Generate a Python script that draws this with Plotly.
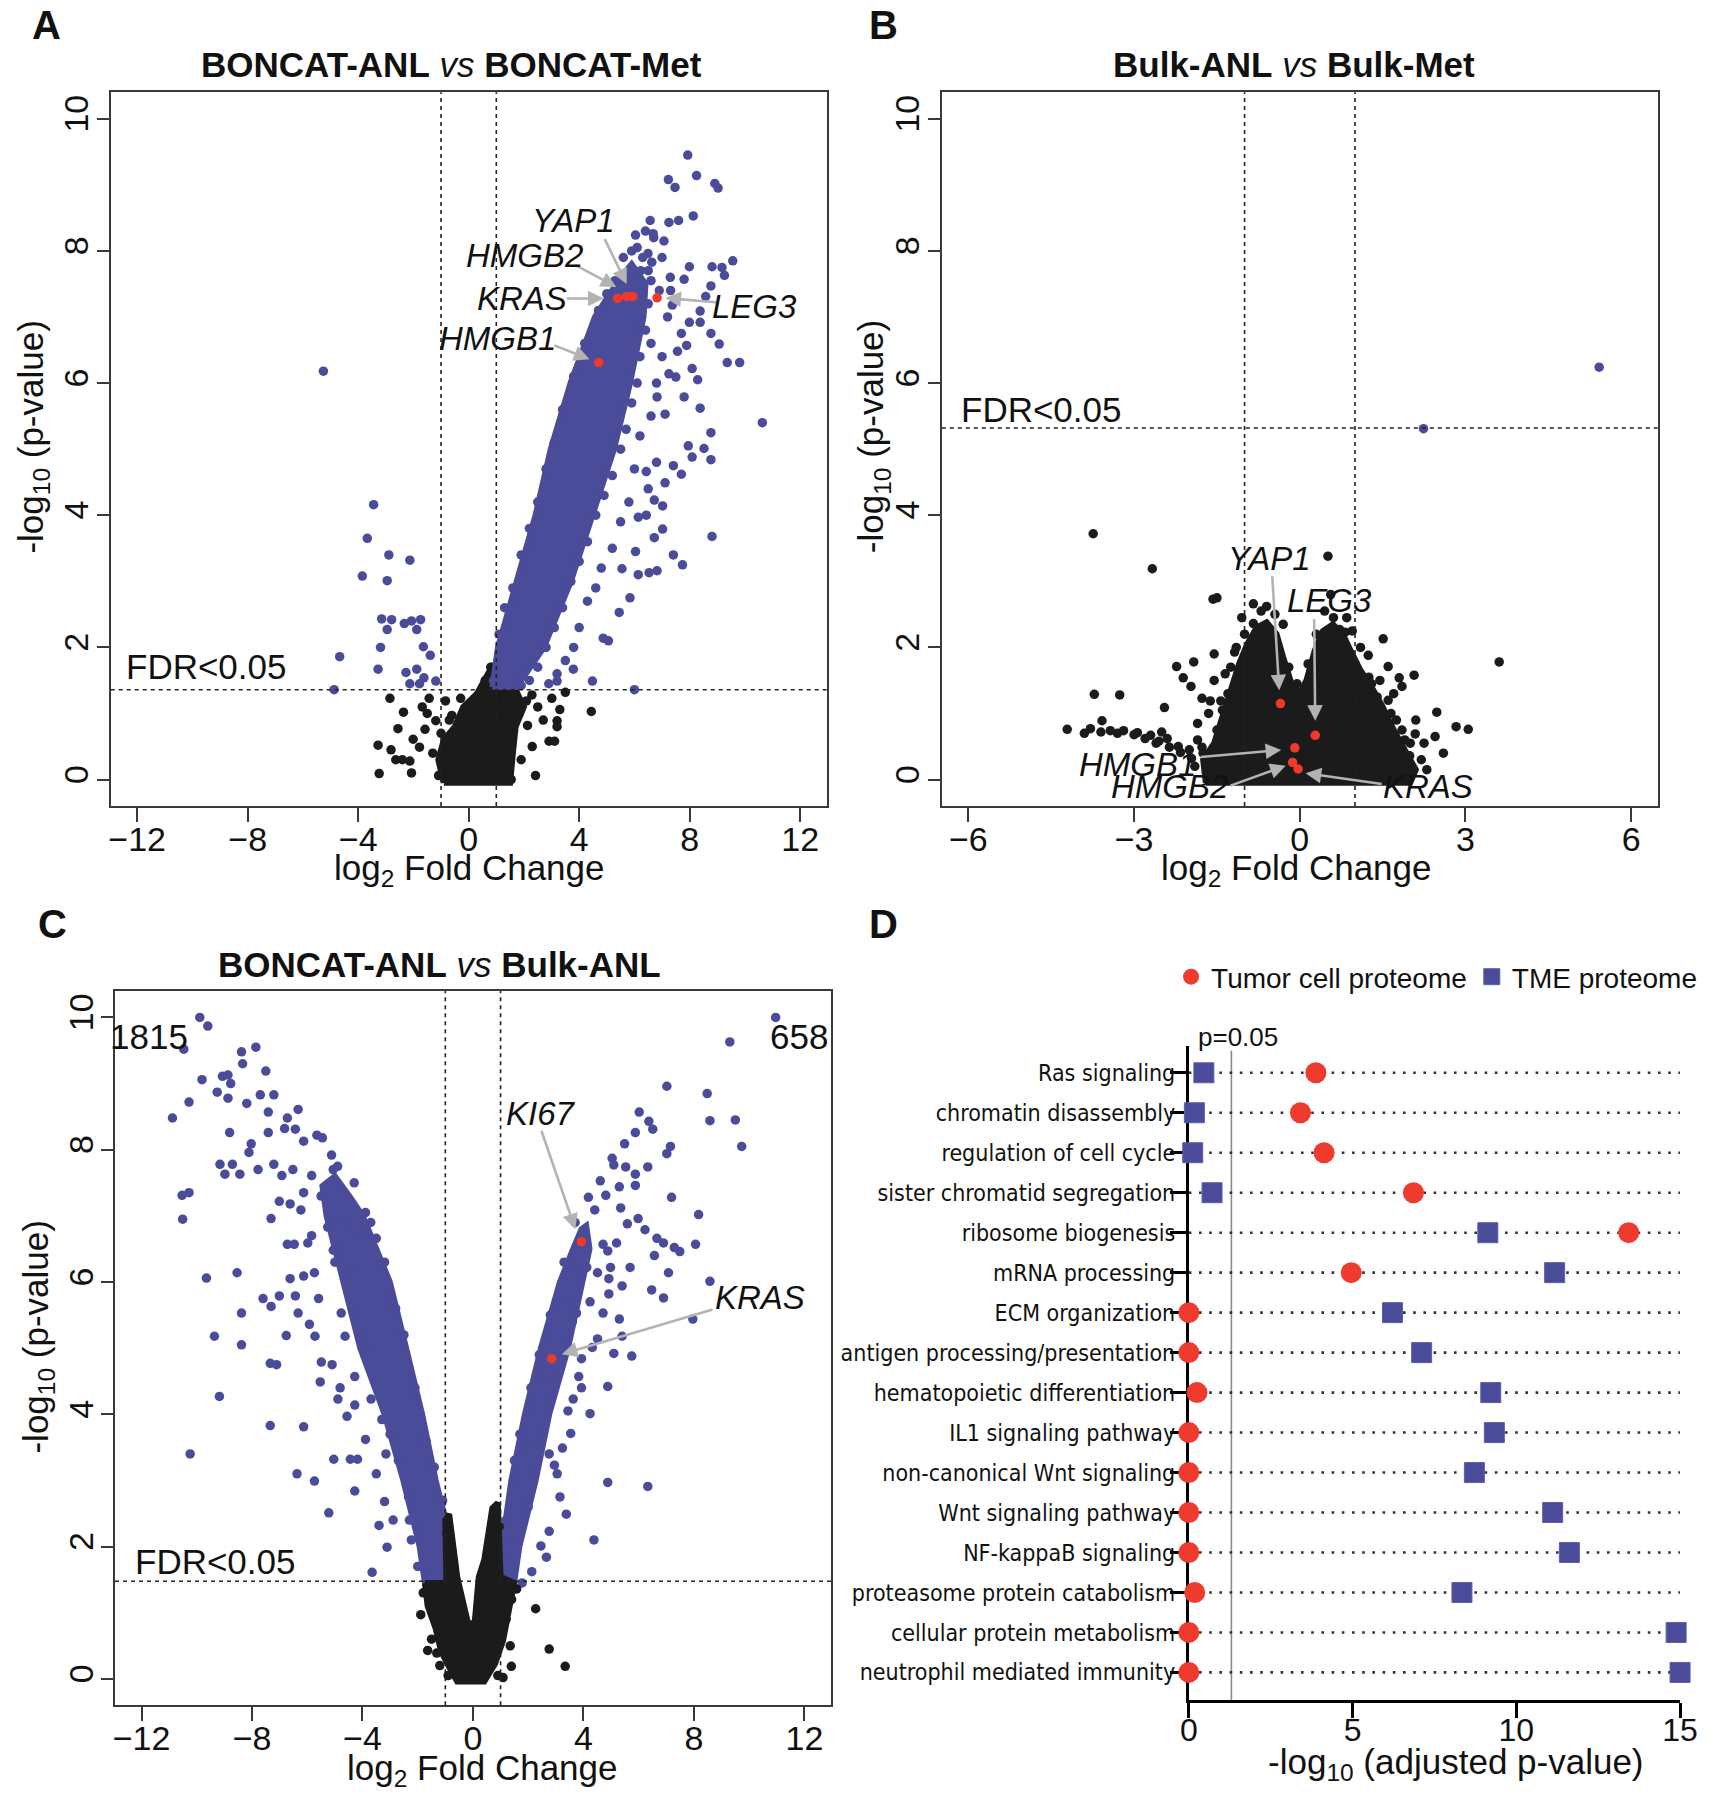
import plotly.graph_objects as go

W, H = 1721, 1800
BLUE = "#4a4c9a"
RED = "#f0392b"
BLACK = "#1b1b1b"
AXC = "#3a3a3a"
FONT = "Liberation Sans, Arial, sans-serif"
NARROW = "Liberation Sans Narrow, Arial Narrow, DejaVu Sans Condensed, sans-serif"

# ---------------- Panel A: BONCAT-ANL vs BONCAT-Met ----------------
A_sig_core = [(0.86, 1.40), (1.06, 2.0), (1.74, 3.0), (2.42, 4.0), (2.97, 5.0), (3.69, 6.0), (4.57, 7.0),
              (5.06, 7.3), (5.5, 7.6), (5.9, 7.8), (6.4, 7.5), (6.33, 7.0), (5.84, 6.0), (5.26, 5.0),
              (4.48, 4.0), (3.7, 3.0), (2.72, 2.0), (1.74, 1.40)]
A_ns_core = [(-0.9, -0.05), (-1.1, 0.3), (-0.9, 0.6), (-0.5, 0.8), (-0.2, 1.1), (0.3, 1.3), (0.7, 1.6),
             (0.9, 1.75), (1.0, 1.36), (1.7, 1.36), (2.0, 1.1), (1.7, 0.8), (1.6, 0.4), (1.5, -0.05)]
A_sig = [(7.93, 9.45), (8.25, 9.14), (7.23, 9.08), (7.47, 8.96), (8.91, 9.02), (9.03, 8.95), (8.13, 8.53),
         (7.6, 8.46), (6.57, 8.46), (7.25, 8.43), (6.68, 8.26), (6.04, 8.24), (7.07, 8.15), (6.49, 7.96),
         (7.99, 7.76), (8.81, 7.76), (9.56, 7.85), (9.17, 7.75), (9.26, 7.63), (8.77, 7.47), (7.8, 7.57),
         (7.31, 7.4), (7.37, 7.18), (6.63, 7.83), (6.23, 7.7), (8.38, 7.09), (8.58, 7.31), (8.38, 6.92),
         (7.99, 6.92), (7.7, 6.75), (7.89, 6.57), (7.56, 6.48), (8.77, 6.75), (9.07, 6.59), (9.36, 6.31),
         (9.81, 6.31), (10.63, 5.4), (8.38, 5.62), (8.77, 5.25), (7.95, 5.05), (8.52, 5.01), (8.09, 4.88),
         (8.77, 4.84), (7.41, 4.75), (7.7, 4.62), (7.11, 4.49), (8.81, 3.68), (7.41, 3.40), (7.74, 3.25),
         (6.82, 3.16), (6.53, 3.13), (7.02, 3.79), (6.72, 3.66), (6.14, 3.10), (5.45, 2.53), (5.06, 2.10),
         (4.87, 2.14), (4.48, 1.49), (6.0, 1.36), (3.79, 1.67), (3.2, 1.49), (6.04, 3.45), (5.84, 2.75),
         (5.55, 3.19), (6.43, 4.0), (6.72, 4.23), (6.14, 3.97), (7.02, 4.14), (6.43, 4.66), (7.11, 5.53),
         (6.82, 5.79), (7.25, 6.14), (7.8, 5.79), (8.29, 6.05), (8.09, 6.22), (7.5, 6.09),
         (0.9, 1.5), (1.1, 2.2), (1.3, 2.6), (1.6, 2.9), (1.9, 3.4), (2.2, 3.8), (2.5, 4.2), (2.8, 4.7),
         (3.1, 5.1), (3.4, 5.6), (3.8, 6.1), (4.2, 6.6), (4.7, 7.1), (5.0, 7.35), (5.3, 7.55), (5.6, 7.9),
         (5.9, 8.0), (6.1, 8.05), (6.3, 7.9), (6.5, 7.7), (6.6, 7.55), (6.5, 7.2), (6.4, 6.8), (6.2, 6.4),
         (6.1, 6.0), (5.9, 5.7), (5.7, 5.3), (5.5, 5.0), (5.2, 4.6), (4.9, 4.3), (4.6, 4.0), (4.3, 3.6),
         (4.0, 3.3), (3.7, 3.0), (3.4, 2.6), (3.1, 2.3), (2.8, 2.0), (2.5, 1.7), (2.2, 1.5), (1.9, 1.42),
         (5.5, 3.9), (5.2, 3.5), (4.8, 3.2), (4.6, 2.9), (4.3, 2.7), (4.0, 2.3), (3.8, 2.0), (3.5, 1.8),
         (3.2, 1.6), (2.9, 1.45), (6.2, 5.2), (6.6, 5.5), (6.8, 4.8), (6.5, 4.4), (6.0, 4.7), (5.8, 4.2),
         (7.0, 6.4), (6.8, 6.0), (6.6, 6.6), (7.2, 7.0), (6.9, 7.4), (7.3, 7.6), (7.0, 7.9), (6.7, 8.2),
         (6.4, 8.3),
         (-5.26, 6.18), (-3.44, 4.16), (-3.67, 3.65), (-3.85, 3.08), (-2.89, 3.40), (-2.95, 3.01),
         (-2.13, 3.32), (-3.15, 2.43), (-2.79, 2.42), (-2.95, 2.27), (-2.33, 2.36), (-2.07, 2.40),
         (-1.74, 2.42), (-1.88, 2.27), (-3.19, 2.0), (-1.64, 2.01), (-1.39, 1.88), (-4.67, 1.86),
         (-3.28, 1.67), (-2.27, 1.62), (-1.88, 1.67), (-1.62, 1.54), (-2.13, 1.45), (-1.19, 1.49),
         (-4.87, 1.36), (-1.78, 1.45)]
A_ns = [(-3.24, 0.09), (-3.28, 0.52), (-2.81, 0.45), (-2.64, 0.30), (-2.13, 0.28), (-2.36, 1.02),
        (-2.56, 0.77), (-2.85, 1.23), (-1.78, 0.49), (-2.01, 0.61), (-2.07, 0.10), (-1.58, 0.76),
        (-1.68, 1.10), (-1.19, 0.89), (-1.09, 0.06), (-1.43, 1.23), (-0.84, 1.19), (-0.61, 0.97),
        (-0.29, 1.23), (0.14, 0.97), (2.42, 0.06), (1.54, 0.0), (4.44, 1.03), (2.91, 0.58), (3.11, 0.58),
        (3.2, 0.89), (3.3, 1.06), (3.5, 1.32), (2.29, 1.28), (2.09, 1.19), (1.84, 1.02), (2.13, 0.82),
        (3.2, 0.80), (3.01, 1.23), (-0.6, 0.2), (-0.4, 0.5), (0.2, 0.9), (1.0, 1.2), (1.3, 0.9),
        (1.5, 0.5), (-0.3, 0.6), (2.3, 0.5), (2.5, 1.1), (-0.7, 0.9), (-1.0, 0.7), (-1.3, 0.4),
        (-1.5, 1.0), (-2.4, 0.3), (0.6, 1.5), (0.8, 1.7), (1.9, 0.3), (2.7, 0.9)]
A_genes = ["KRAS", "HMGB2", "YAP1", "LEG3", "HMGB1"]
A_gene_x = [5.39, 5.71, 5.94, 6.82, 4.71]
A_gene_y = [7.28, 7.31, 7.31, 7.29, 6.31]
A_label_x = [1.93, 2.03, 3.79, 10.34, 1.06]
A_label_y = [7.28, 7.93, 8.46, 7.16, 6.68]
A_tail_x = [3.5, 3.8, 4.9, 9.0, 3.05]
A_tail_y = [7.28, 7.8, 8.2, 7.22, 6.58]
A_head_x = [4.96, 5.41, 5.75, 7.05, 4.44]
A_head_y = [7.28, 7.44, 7.47, 7.29, 6.35]
A_fdr = 1.36

# ---------------- Panel B: Bulk-ANL vs Bulk-Met ----------------
B_ns_core = [(-1.7, -0.05), (-1.75, 0.3), (-1.55, 0.55), (-1.4, 0.95), (-1.25, 1.35), (-1.1, 1.75),
             (-0.95, 2.05), (-0.78, 2.3), (-0.6, 2.38), (-0.42, 2.2), (-0.3, 1.85), (-0.15, 1.45),
             (0.0, 1.3), (0.12, 1.5), (0.27, 1.95), (0.42, 2.25), (0.6, 2.35), (0.78, 2.2), (0.92, 1.95),
             (1.1, 1.65), (1.3, 1.4), (1.5, 1.1), (1.7, 0.75), (1.9, 0.45), (2.1, 0.15), (2.0, -0.05)]
B_sig = [(5.42, 6.24), (2.24, 5.31)]
B_ns = [(-3.74, 3.72), (-2.67, 3.19), (0.51, 3.38), (-1.57, 2.73), (-1.50, 2.75), (-0.84, 2.66),
        (-0.60, 2.62), (0.56, 2.80), (3.61, 1.78), (2.07, 1.58), (1.80, 1.54), (1.85, 1.41), (1.60, 1.71),
        (1.51, 2.13), (1.24, 1.88), (-2.23, 1.71), (-1.92, 1.78), (-1.55, 1.90), (-2.11, 1.54),
        (-1.97, 1.41), (-1.77, 1.23), (-1.62, 1.19), (-1.43, 1.19), (-2.45, 1.09), (-3.72, 1.29),
        (-3.26, 1.28), (-4.21, 0.76), (-3.79, 0.77), (-3.58, 0.89), (-3.43, 0.74), (-3.19, 0.74),
        (-2.94, 0.71), (-2.70, 0.67), (-2.55, 0.58), (-2.36, 0.49), (-2.16, 0.41), (-1.96, 0.32),
        (-1.77, 0.49), (-1.62, 0.23), (-1.43, 0.49), (-1.18, 1.41), (-1.18, 1.93), (-0.84, 2.36),
        (2.48, 1.02), (2.45, 0.65), (2.83, 0.80), (3.05, 0.76), (2.09, 0.69), (1.99, 0.36), (1.92, 0.15),
        (1.41, 0.41), (1.16, 0.15), (0.61, 2.45), (0.72, 2.27), (0.82, 2.23), (1.16, 1.23), (1.46, 0.93),
        (-3.3, 0.7), (-3.0, 0.68), (-2.8, 0.62), (-2.6, 0.55), (-2.4, 0.62), (-2.2, 0.5), (-2.0, 0.45),
        (-1.9, 0.2), (-1.85, 0.6), (-2.5, 0.72), (-3.6, 0.72), (-3.9, 0.7), (-1.3, 1.3), (-1.25, 1.7),
        (-1.0, 2.2), (1.3, 1.45), (1.6, 1.2), (1.75, 0.9), (2.0, 0.55), (2.2, 0.3), (2.1, 0.9),
        (1.1, 2.0), (0.95, 2.25), (-0.45, 2.5), (2.6, 0.4), (1.7, 1.3),
        (-1.05, 2.45), (-0.7, 2.55), (-0.3, 2.35), (0.3, 2.2), (0.45, 2.55), (0.85, 2.45), (1.0, 1.75),
        (1.25, 1.55), (1.4, 1.25), (-1.4, 1.05), (-1.5, 0.75), (-1.75, 0.4), (2.3, 0.15),
        (1.85, 0.75), (-0.2, 1.7), (0.15, 1.75), (-0.05, 1.45), (-1.55, 1.5), (-1.35, 1.6), (-1.15, 2.0),
        (1.45, 1.5), (1.65, 1.0), (1.9, 0.6), (2.25, 0.55), (-1.65, 1.0), (-1.85, 0.85)]
B_genes = ["YAP1", "LEG3", "HMGB1", "HMGB2", "KRAS"]
B_gene_x = [-0.35, 0.28, -0.09, -0.13, -0.03]
B_gene_y = [1.15, 0.67, 0.48, 0.26, 0.16]
B_label_x = [-0.55, 0.53, -2.94, -2.36, 2.32]
B_label_y = [3.34, 2.71, 0.23, -0.11, -0.11]
B_tail_x = [-0.50, 0.26, -1.82, -1.28, 1.51]
B_tail_y = [3.10, 2.45, 0.34, -0.10, -0.07]
B_head_x = [-0.37, 0.28, -0.30, -0.22, 0.07]
B_head_y = [1.32, 0.86, 0.45, 0.22, 0.10]
B_fdr = 5.32

# ---------------- Panel C: BONCAT-ANL vs Bulk-ANL ----------------
C_sig_core_left = [(-1.74, 1.45), (-1.93, 2.0), (-2.52, 3.0), (-3.2, 4.0), (-4.08, 5.0), (-4.67, 6.0),
                   (-5.3, 7.0), (-5.45, 7.45), (-5.0, 7.6), (-4.48, 7.3), (-3.99, 7.0), (-3.5, 6.5),
                   (-3.01, 6.0), (-2.42, 5.0), (-1.84, 4.0), (-1.35, 3.0), (-1.05, 2.5), (-1.0, 2.0),
                   (-1.0, 1.45)]
C_sig_core_right = [(1.49, 1.45), (1.68, 2.0), (2.27, 3.0), (2.76, 4.0), (3.44, 5.0), (3.93, 6.0),
                    (4.22, 6.5), (4.1, 6.85), (3.93, 6.8), (3.63, 6.5), (3.15, 6.0), (2.46, 5.0),
                    (1.88, 4.0), (1.39, 3.0), (1.05, 2.0), (1.0, 1.45)]
C_ns_core = [(-1.74, 1.45), (-1.64, 1.10), (-1.35, 0.76), (-1.15, 0.41), (-0.76, 0.10), (-0.57, -0.04),
             (0.41, -0.04), (0.8, 0.23), (1.09, 0.58), (1.29, 1.02), (1.49, 1.45), (1.0, 1.54),
             (0.9, 2.66), (0.7, 2.58), (0.41, 1.80), (0.21, 1.54), (0.06, 0.84), (-0.18, 0.84),
             (-0.57, 1.54), (-0.86, 2.49), (-1.0, 2.4), (-0.96, 1.45)]
C_sig = [(-9.89, 10.0), (-9.6, 9.87), (-10.47, 9.52), (-8.38, 9.48), (-7.86, 9.55), (-8.34, 9.3),
         (-7.5, 9.19), (-9.07, 9.11), (-8.87, 9.13), (-9.81, 9.06), (-8.77, 9.0), (-9.26, 8.87),
         (-8.87, 8.78), (-8.19, 8.70), (-10.28, 8.72), (-10.88, 8.48), (-7.7, 8.83), (-7.21, 8.83),
         (-7.41, 8.57), (-6.72, 8.48), (-6.33, 8.61), (-6.82, 8.32), (-6.43, 8.31), (-6.13, 8.13),
         (-5.65, 8.22), (-5.45, 8.18), (-8.03, 8.09), (-7.41, 8.26), (-8.81, 8.26), (-8.11, 7.96),
         (-7.78, 7.70), (-8.44, 7.63), (-9.16, 7.78), (-8.98, 7.63), (-8.71, 7.78), (-7.21, 7.78),
         (-6.92, 7.61), (-7.01, 7.22), (-6.62, 7.18), (-7.31, 6.96), (-6.23, 7.09), (-5.84, 7.61),
         (-6.52, 7.70), (-6.13, 7.35), (-5.12, 7.92), (-5.06, 7.70), (-10.53, 7.31), (-10.28, 7.35),
         (-10.51, 6.95), (-6.72, 6.57), (-6.47, 6.57), (-5.98, 6.59), (-6.62, 6.05), (-6.13, 6.09),
         (-5.74, 6.14), (-7.01, 5.79), (-6.43, 5.79), (-5.59, 5.75), (-7.6, 5.75), (-7.31, 5.63),
         (-6.33, 5.53), (-9.65, 6.06), (-8.54, 6.14), (-6.76, 5.19), (-5.92, 5.36), (-5.72, 5.18),
         (-5.49, 4.79), (-5.1, 4.75), (-7.34, 4.77), (-7.11, 4.75), (-9.36, 5.18), (-8.38, 5.53),
         (-8.38, 5.05), (-9.18, 4.27), (-7.34, 3.83), (-6.13, 3.81), (-4.89, 4.23), (-4.56, 3.97),
         (-4.28, 4.14), (-4.81, 4.40), (-5.53, 4.49), (-5.04, 3.32), (-4.44, 3.32), (-4.18, 3.32),
         (-6.37, 3.10), (-5.74, 2.99), (-5.22, 2.51), (-10.24, 3.40), (-4.28, 2.84), (-3.4, 2.32),
         (-3.2, 2.68), (-3.11, 1.99), (-2.23, 2.10), (-1.93, 2.27), (-3.65, 1.61), (-2.89, 2.40),
         (-2.33, 2.75), (-3.5, 3.10), (-3.15, 3.40), (-3.89, 3.62), (-3.3, 3.92), (-3.69, 4.23),
         (-4.28, 4.57), (-4.08, 5.18), (-4.63, 5.18), (-4.77, 5.53), (-5.06, 6.48), (-4.61, 6.92),
         (-5.26, 6.83), (-5.84, 6.70), (-3.5, 6.66), (-4.08, 6.74), (-3.89, 7.05),
         (-2.0, 1.7), (-2.3, 2.4), (-2.7, 3.3), (-3.0, 3.7), (-3.5, 4.5), (-3.8, 5.0), (-4.3, 5.6),
         (-4.5, 6.2), (-5.0, 6.3), (-5.5, 7.3), (-4.9, 7.75), (-4.3, 7.5), (-3.7, 6.9), (-3.2, 6.3),
         (-2.8, 5.6), (-2.5, 5.2), (-2.1, 4.4), (-1.7, 3.6), (-1.4, 3.2), (-1.1, 2.7),
         (10.96, 10.0), (9.3, 9.63), (7.02, 8.96), (8.48, 8.85), (8.58, 8.44), (9.5, 8.45), (9.73, 8.05),
         (6.02, 8.57), (5.88, 8.26), (6.37, 8.43), (5.49, 8.09), (6.51, 8.31), (7.15, 8.05), (7.02, 7.94),
         (5.04, 7.87), (5.1, 7.77), (5.53, 7.74), (5.88, 7.63), (6.33, 7.74), (5.88, 7.46), (4.61, 7.53),
         (4.81, 7.31), (5.3, 7.44), (4.18, 7.28), (4.41, 7.09), (7.19, 7.28), (8.17, 7.02), (5.35, 7.12),
         (5.98, 6.96), (5.59, 6.88), (6.23, 6.79), (6.66, 6.66), (6.9, 6.59), (7.49, 6.46), (8.06, 6.57),
         (7.29, 6.52), (4.71, 6.57), (5.2, 6.59), (4.88, 6.47), (4.98, 6.22), (6.57, 6.40), (5.69, 6.22),
         (7.08, 6.14), (8.58, 6.01), (6.47, 5.88), (6.9, 5.76), (4.92, 5.82), (5.4, 5.94), (4.92, 6.05),
         (7.96, 5.44), (4.71, 5.53), (5.3, 5.44), (5.4, 5.18), (4.51, 5.14), (5.75, 4.88), (5.1, 4.92),
         (4.32, 5.01), (3.93, 4.84), (3.83, 4.57), (3.93, 4.40), (4.88, 4.42), (4.24, 4.01), (3.63, 4.23),
         (3.44, 4.05), (3.54, 3.71), (3.24, 3.49), (2.76, 3.40), (2.95, 3.23), (3.05, 3.10), (3.15, 2.75),
         (3.38, 2.49), (4.88, 2.97), (6.33, 2.91), (4.38, 2.10), (2.76, 2.23), (2.46, 2.01), (2.66, 1.84),
         (2.13, 1.62), (1.78, 1.45), (1.49, 1.36), (3.17, 5.7), (3.75, 5.53), (4.24, 5.70), (4.51, 6.14),
         (4.12, 6.22), (3.83, 6.57),
         (1.2, 2.4), (1.5, 3.3), (1.7, 3.7), (2.1, 4.4), (2.4, 4.9), (2.8, 5.5), (3.3, 6.3), (3.7, 6.9),
         (2.0, 2.6), (2.4, 3.6), (3.0, 4.5), (3.6, 5.4), (4.0, 6.7)]
C_ns = [(-1.89, 0.97), (-1.64, 0.43), (-1.31, 0.39), (2.76, 0.45), (3.34, 0.19), (2.27, 1.06),
        (1.39, 0.19), (1.09, 0.02), (1.58, 1.36), (-1.5, 0.6), (-1.2, 0.2), (1.2, 0.9), (1.4, 1.2),
        (-0.9, 0.05), (0.9, 0.05), (-1.8, 1.3), (-1.45, 1.0), (1.35, 0.5), (-0.95, 2.2), (0.95, 2.3)]
C_genes = ["KI67", "KRAS"]
C_gene_x = [3.93, 2.85]
C_gene_y = [6.61, 4.84]
C_label_x = [2.46, 10.38]
C_label_y = [8.55, 5.76]
C_tail_x = [2.46, 8.73]
C_tail_y = [8.31, 5.59]
C_head_x = [3.73, 3.15]
C_head_y = [6.77, 4.90]
C_fdr = 1.476
C_counts = ["1815", "658"]

# ---------------- Panel D: enrichment ----------------
D_terms = ["Ras signaling", "chromatin disassembly", "regulation of cell cycle",
           "sister chromatid segregation", "ribosome biogenesis", "mRNA processing",
           "ECM organization", "antigen processing/presentation", "hematopoietic differentiation",
           "IL1 signaling pathway", "non-canonical Wnt signaling", "Wnt signaling pathway",
           "NF-kappaB signaling", "proteasome protein catabolism", "cellular protein metabolism",
           "neutrophil mediated immunity"]
D_tumor = [3.88, 3.41, 4.13, 6.86, 13.43, 4.96, 0.0, 0.0, 0.25, 0.0, 0.0, 0.0, 0.0, 0.18, 0.0, 0.0]
D_tme = [0.46, 0.17, 0.12, 0.71, 9.13, 11.17, 6.22, 7.11, 9.22, 9.33, 8.72, 11.11, 11.62, 8.34, 14.88, 15.0]
D_pcut = 1.301
D_xticks = [0, 5, 10, 15]

# =================================================================
fig = go.Figure()


def xs(pts):
    return [p[0] for p in pts]


def ys(pts):
    return [p[1] for p in pts]


def add_poly(pts, color, xa, ya):
    fig.add_trace(go.Scatter(x=xs(pts) + [pts[0][0]], y=ys(pts) + [pts[0][1]], mode="lines",
                             fill="toself", fillcolor=color, line=dict(color=color, width=6),
                             xaxis=xa, yaxis=ya, showlegend=False, hoverinfo="skip"))


def add_pts(px, py, color, xa, ya, size=9.5):
    fig.add_trace(go.Scatter(x=px, y=py, mode="markers", marker=dict(color=color, size=size, line=dict(width=0)),
                             xaxis=xa, yaxis=ya, showlegend=False))


# Panel A
add_poly(A_ns_core, BLACK, "x", "y")
add_pts(xs(A_ns), ys(A_ns), BLACK, "x", "y")
add_poly(A_sig_core, BLUE, "x", "y")
add_pts(xs(A_sig), ys(A_sig), BLUE, "x", "y")
add_pts(A_gene_x, A_gene_y, RED, "x", "y")
# Panel B
add_poly(B_ns_core, BLACK, "x2", "y2")
add_pts(xs(B_ns), ys(B_ns), BLACK, "x2", "y2")
add_pts(xs(B_sig), ys(B_sig), BLUE, "x2", "y2")
add_pts(B_gene_x, B_gene_y, RED, "x2", "y2")
# Panel C
add_poly(C_sig_core_left, BLUE, "x3", "y3")
add_poly(C_sig_core_right, BLUE, "x3", "y3")
add_pts(xs(C_sig), ys(C_sig), BLUE, "x3", "y3")
add_poly(C_ns_core, BLACK, "x3", "y3")
add_pts(xs(C_ns), ys(C_ns), BLACK, "x3", "y3")
add_pts(C_gene_x, C_gene_y, RED, "x3", "y3")

# Panel D dotted guide lines
gx, gy = [], []
for t in D_terms:
    gx += [0, 15, None]
    gy += [t, t, None]
fig.add_trace(go.Scatter(x=gx, y=gy, mode="lines", line=dict(color="#333333", width=2.6, dash="2.6px,7.6px"),
                         xaxis="x4", yaxis="y4", showlegend=False, hoverinfo="skip", connectgaps=False))
fig.add_trace(go.Scatter(x=D_tme, y=D_terms, mode="markers", name="TME proteome",
                         marker=dict(symbol="square", size=20, color=BLUE, line=dict(color="#5c5eb0", width=1)),
                         xaxis="x4", yaxis="y4", cliponaxis=False))
fig.add_trace(go.Scatter(x=D_tumor, y=D_terms, mode="markers", name="Tumor cell proteome",
                         marker=dict(symbol="circle", size=21, color="#ef3b2d", line=dict(width=0)),
                         xaxis="x4", yaxis="y4", cliponaxis=False))

# ---------------- axes ----------------
tickfont = dict(family=FONT, size=34, color="#111111")


def vx(domain, rng, tv):
    return dict(domain=domain, range=rng, tickvals=tv, showline=True, mirror=True, linecolor=AXC,
                linewidth=1.6, ticks="outside", ticklen=14, tickwidth=1.6, tickcolor=AXC,
                showgrid=False, zeroline=False, tickfont=tickfont, fixedrange=True, ticklabelstandoff=-12)


def vy(domain, xa):
    return dict(domain=domain, range=[-0.4, 10.4], tickvals=[0, 2, 4, 6, 8, 10], showline=True, mirror=True,
                linecolor=AXC, linewidth=1.6, ticks="outside", ticklen=12, tickwidth=1.6, tickcolor=AXC,
                showgrid=False, zeroline=False, tickfont=tickfont, tickangle=-90, anchor=xa, fixedrange=True,
                ticklabelstandoff=-5)


top_dom = [1 - 806 / H, 1 - 92.3 / H]
bot_dom = [1 - 1705.3 / H, 1 - 991 / H]
A_xd = [103.3 / W, 830.7 / W]
B_xd = [947.7 / W, 1675 / W]
C_xd = [107.7 / W, 835 / W]
D_xd = [1198.6 / W, 1697.7 / W]
D_yd = [1 - 1700 / H, 1 - 1046 / H]

layout = dict(
    width=W, height=H, margin=dict(l=0, r=0, t=0, b=0), paper_bgcolor="white", plot_bgcolor="white",
    font=dict(family=FONT, color="#111111"),
    xaxis=dict(vx(A_xd, [-12.96, 12.96], [-12, -8, -4, 0, 4, 8, 12]), anchor="y"),
    yaxis=vy(top_dom, "x"),
    xaxis2=dict(vx(B_xd, [-6.48, 6.48], [-6, -3, 0, 3, 6]), anchor="y2"),
    yaxis2=vy(top_dom, "x2"),
    xaxis3=dict(vx(C_xd, [-12.96, 12.96], [-12, -8, -4, 0, 4, 8, 12]), anchor="y3"),
    yaxis3=vy(bot_dom, "x3"),
    xaxis4=dict(domain=D_xd, range=[0, 15], tickvals=D_xticks, showline=True, linecolor="#000000", linewidth=3,
                ticks="outside", ticklen=15, tickwidth=3, tickcolor="#000000", showgrid=False, zeroline=False,
                tickfont=dict(family=FONT, size=32, color="#111111"), anchor="y4", fixedrange=True,
                ticklabelstandoff=-15),
    yaxis4=dict(domain=D_yd, type="category", categoryorder="array", categoryarray=D_terms[::-1],
                range=[-0.69, 15.67], showline=True, linecolor="#000000", linewidth=3, ticks="outside",
                ticklen=16, tickwidth=3, tickcolor="#000000", showgrid=False, zeroline=False,
                tickfont=dict(family=NARROW, size=23, color="#111111"), anchor="x4", layer="below traces",
                fixedrange=True, ticklabelstandoff=-10),
    showlegend=True,
    legend=dict(orientation="h", x=0.686, y=1 - 977 / H, xanchor="left", yanchor="middle",
                font=dict(family=FONT, size=28, color="#111111"), traceorder="reversed",
                bgcolor="rgba(0,0,0,0)", itemwidth=30, itemclick=False),
)
fig.update_layout(**layout)

# ---------------- shapes ----------------
shapes = []
dash = dict(color="#222222", width=1.6, dash="4px,4px")
for xa, ya, fdr in [("x", "y", A_fdr), ("x2", "y2", B_fdr), ("x3", "y3", C_fdr)]:
    for v in (-1, 1):
        shapes.append(dict(type="line", xref=xa, yref=ya + " domain", x0=v, x1=v, y0=0, y1=1, line=dash))
    shapes.append(dict(type="line", xref=xa + " domain", yref=ya, x0=0, x1=1, y0=fdr, y1=fdr, line=dash))
shapes.append(dict(type="line", xref="x4", yref="y4 domain", x0=D_pcut, x1=D_pcut, y0=0, y1=0.993,
                   line=dict(color="#8a8a8a", width=1.6), layer="below"))
fig.update_layout(shapes=shapes)

# ---------------- annotations ----------------
ann = []


def txt(text, x, y, size, xref="paper", yref="paper", xanchor="center", yanchor="middle", angle=0, family=FONT):
    ann.append(dict(text=text, x=x, y=y, xref=xref, yref=yref, xanchor=xanchor, yanchor=yanchor,
                    showarrow=False, textangle=angle, font=dict(family=family, size=size, color="#111111")))


# panel letters
for L, px, py in [("A", 38, 25), ("B", 888, 25), ("C", 44, 924), ("D", 888, 924)]:
    txt("<b>" + L + "</b>", px / W, 1 - py / H, 40)
# titles
txt("<b>BONCAT-ANL</b> <i>vs</i> <b>BONCAT-Met</b>", 450 / W, 1 - 65 / H, 35)
txt("<b>Bulk-ANL</b> <i>vs</i> <b>Bulk-Met</b>", 1305 / W, 1 - 65 / H, 35)
txt("<b>BONCAT-ANL</b> <i>vs</i> <b>Bulk-ANL</b>", 437 / W, 1 - 964 / H, 35)
# axis titles
xt = "log<sub>2</sub> Fold Change"
yt = "-log<sub>10</sub> (p-value)"
txt(xt, 468 / W, 1 - 870 / H, 35)
txt(xt, 1308 / W, 1 - 870 / H, 35)
txt(xt, 481 / W, 1 - 1770 / H, 35)
txt(yt, 24 / W, 1 - 437 / H, 35, angle=-90)
txt(yt, 878 / W, 1 - 437 / H, 35, angle=-90)
txt(yt, 29 / W, 1 - 1337 / H, 35, angle=-90)
txt("-log<sub>10</sub> (adjusted p-value)", 1470 / W, 1 - 1764 / H, 35)
txt("p=0.05", 1249 / W, 1 - 1037 / H, 26)
# FDR labels
txt("FDR<0.05", 0.019, 1.71, 35, xref="x domain", yref="y", xanchor="left")
txt("FDR<0.05", 0.0245, 5.6, 35, xref="x2 domain", yref="y2", xanchor="left")
txt("FDR<0.05", 0.025, 1.77, 35, xref="x3 domain", yref="y3", xanchor="left")
# counts
txt(C_counts[0], -0.01, 9.71, 35, xref="x3 domain", yref="y3", xanchor="left")
txt(C_counts[1], 0.999, 9.71, 35, xref="x3 domain", yref="y3", xanchor="right")


def gene_ann(names, lx, ly, tx, ty, hx, hy, xa, ya):
    for i, n in enumerate(names):
        ann.append(dict(x=hx[i], y=hy[i], ax=tx[i], ay=ty[i], xref=xa, yref=ya, axref=xa, ayref=ya,
                        text="", showarrow=True, arrowhead=2, arrowsize=1.2, arrowwidth=2.6,
                        arrowcolor="#b3b3b3", standoff=2, startstandoff=0))
        ann.append(dict(x=lx[i], y=ly[i], xref=xa, yref=ya, text="<i>" + n + "</i>", showarrow=False,
                        xanchor="center", yanchor="middle", font=dict(family=FONT, size=33, color="#111111")))


gene_ann(A_genes, A_label_x, A_label_y, A_tail_x, A_tail_y, A_head_x, A_head_y, "x", "y")
gene_ann(B_genes, B_label_x, B_label_y, B_tail_x, B_tail_y, B_head_x, B_head_y, "x2", "y2")
gene_ann(C_genes, C_label_x, C_label_y, C_tail_x, C_tail_y, C_head_x, C_head_y, "x3", "y3")
fig.update_layout(annotations=ann)

fig.write_html("out.html", config={"displayModeBar": False},
               post_script="document.body.style.margin='0px';document.body.style.padding='0px';")
